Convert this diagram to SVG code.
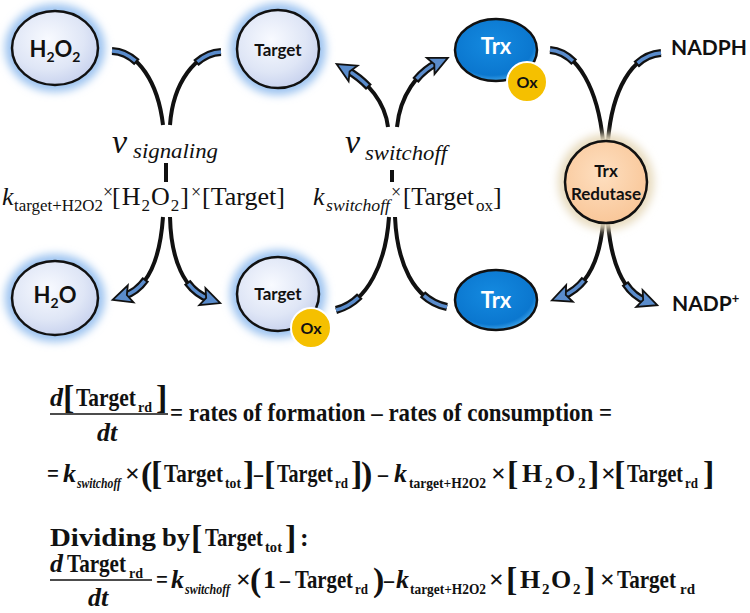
<svg xmlns="http://www.w3.org/2000/svg" width="750" height="613" viewBox="0 0 750 613">
<style>
.nl{font-family:Lato,"Open Sans","Liberation Sans",sans-serif;font-weight:700;fill:#111}
.wl{font-family:Lato,"Open Sans","Liberation Sans",sans-serif;font-weight:700;fill:#fff}
.lb{stroke:#111;stroke-width:2.5}
.m{font-family:"Liberation Serif","Times New Roman",serif;fill:#111}
.mi{font-family:"Liberation Serif","Times New Roman",serif;font-style:italic;fill:#111}
.e{font-family:"Liberation Serif","Times New Roman",serif;font-weight:700;font-size:26px;fill:#111}
.ei{font-family:"Liberation Serif","Times New Roman",serif;font-weight:700;font-style:italic;font-size:26px;fill:#111}
.es{font-family:"Liberation Serif","Times New Roman",serif;font-weight:700;font-size:15px;fill:#111}
.esi{font-family:"Liberation Serif","Times New Roman",serif;font-weight:700;font-style:italic;font-size:15px;fill:#111}
.eb{font-family:"Liberation Serif","Times New Roman",serif;font-weight:700;font-size:34px;fill:#111}
.base{fill:none;stroke:#111;stroke-width:4}
.band{fill:none;stroke:#111;stroke-width:8;stroke-dasharray:28 600}
.blue{fill:none;stroke:#5a8ccc;stroke-width:3.5;stroke-dasharray:26 600}
</style>
<defs>
<filter id="blur" x="-40%" y="-40%" width="180%" height="180%"><feGaussianBlur stdDeviation="4.5"/></filter>
<radialGradient id="gL" cx="0.42" cy="0.38" r="0.7"><stop offset="0" stop-color="#f8faff"/><stop offset="0.6" stop-color="#dfe6f6"/><stop offset="1" stop-color="#c2cdec"/></radialGradient>
<radialGradient id="gT" cx="0.45" cy="0.4" r="0.65"><stop offset="0" stop-color="#148ae0"/><stop offset="0.78" stop-color="#0b77cf"/><stop offset="1" stop-color="#52b4f2"/></radialGradient>
<radialGradient id="gR" cx="0.45" cy="0.4" r="0.7"><stop offset="0" stop-color="#fedfc0"/><stop offset="1" stop-color="#f8c393"/></radialGradient>
<marker id="ah" markerUnits="userSpaceOnUse" viewBox="-10 -12 26 24" refX="0" refY="0" markerWidth="26" markerHeight="24" orient="auto-start-reverse">
<path d="M12,0 L-7,-9 L-3,0 L-7,9 Z" fill="#5a8ccc" stroke="#111" stroke-width="1.8"/>
</marker>
</defs>
<rect width="750" height="613" fill="#fff"/>

<g id="connectors">
<path class="base" d="M112,51 C138,52 158,82 163,125"/>
<path class="base" d="M221,52 C196,53 173,82 170,125"/>
<path class="base" d="M124,296 C148,288 160,260 163,217"/>
<path class="base" d="M209,299 C184,290 171,260 170,217"/>
<path class="base" d="M347,70 C368,82 385,102 388,127"/>
<path class="base" d="M437,63 C418,72 400,95 397,127"/>
<path class="base" d="M336,310 C368,302 386,262 389,217"/>
<path class="base" d="M447,307 C413,300 397,262 395,217"/>
<path class="base" d="M550,50 C578,52 598,90 603,141"/>
<path class="base" d="M661,53 C632,55 612,90 608,141"/>
<path class="base" d="M563,296 C588,286 600,258 603,223"/>
<path class="base" d="M646,301 C622,292 611,260 608,223"/>
<path class="base" d="M166,163 V182"/>
<path class="base" d="M392,170 V182"/>
<g class="ends">
<path class="band" d="M112,51 C138,52 158,82 163,125"/>
<path class="band" d="M221,52 C196,53 173,82 170,125"/>
<path class="band" d="M124,296 C148,288 160,260 163,217"/>
<path class="band" d="M209,299 C184,290 171,260 170,217"/>
<path class="band" d="M347,70 C368,82 385,102 388,127"/>
<path class="band" d="M437,63 C418,72 400,95 397,127"/>
<path class="band" d="M336,310 C368,302 386,262 389,217"/>
<path class="band" d="M447,307 C413,300 397,262 395,217"/>
<path class="band" d="M550,50 C578,52 598,90 603,141"/>
<path class="band" d="M661,53 C632,55 612,90 608,141"/>
<path class="band" d="M563,296 C588,286 600,258 603,223"/>
<path class="band" d="M646,301 C622,292 611,260 608,223"/>
<path class="blue" d="M112,51 C138,52 158,82 163,125"/>
<path class="blue" d="M221,52 C196,53 173,82 170,125"/>
<path class="blue" d="M124,296 C148,288 160,260 163,217" marker-start="url(#ah)"/>
<path class="blue" d="M209,299 C184,290 171,260 170,217" marker-start="url(#ah)"/>
<path class="blue" d="M347,70 C368,82 385,102 388,127" marker-start="url(#ah)"/>
<path class="blue" d="M437,63 C418,72 400,95 397,127" marker-start="url(#ah)"/>
<path class="blue" d="M336,310 C368,302 386,262 389,217"/>
<path class="blue" d="M447,307 C413,300 397,262 395,217"/>
<path class="blue" d="M550,50 C578,52 598,90 603,141"/>
<path class="blue" d="M661,53 C632,55 612,90 608,141"/>
<path class="blue" d="M563,296 C588,286 600,258 603,223" marker-start="url(#ah)"/>
<path class="blue" d="M646,301 C622,292 611,260 608,223" marker-start="url(#ah)"/>
</g>
</g>

<g id="node-h2o2">
<ellipse cx="55" cy="48" rx="50" ry="44" fill="#9cc3f0" filter="url(#blur)"/>
<ellipse cx="55" cy="48" rx="43" ry="37" fill="url(#gL)" class="lb"/>
<text x="55" y="57" text-anchor="middle" class="nl" font-size="22">H<tspan font-size="14" dy="5">2</tspan><tspan dy="-5">O</tspan><tspan font-size="14" dy="5">2</tspan></text>
</g>
<g id="node-target">
<ellipse cx="278" cy="49" rx="48" ry="46" fill="#9cc3f0" filter="url(#blur)"/>
<ellipse cx="278" cy="49" rx="41" ry="39" fill="url(#gL)" class="lb"/>
<text x="278" y="56" text-anchor="middle" class="nl" font-size="17">Target</text>
</g>
<g id="node-trx-ox">
<ellipse cx="496" cy="50" rx="41" ry="31" fill="url(#gT)" class="lb"/>
<text x="496" y="54" text-anchor="middle" class="wl" font-size="22">Trx</text>
<circle cx="527" cy="82" r="20" fill="#f5c000" stroke="#fff" stroke-width="2"/>
<text x="527" y="88" text-anchor="middle" class="nl" font-size="16">Ox</text>
</g>
<g id="node-nadph">
<text x="671" y="55" class="nl" font-size="21">NADPH</text>
</g>
<g id="node-trx-redutase">
<circle cx="606" cy="182" r="48" fill="#e8dcc0" filter="url(#blur)"/>
<circle cx="606" cy="182" r="41" fill="url(#gR)" class="lb"/>
<text x="606" y="177" text-anchor="middle" class="nl" font-size="17">Trx</text>
<text x="606" y="200" text-anchor="middle" class="nl" font-size="17">Redutase</text>
</g>
<g id="node-h2o">
<ellipse cx="55" cy="298" rx="50" ry="44" fill="#9cc3f0" filter="url(#blur)"/>
<ellipse cx="55" cy="298" rx="43" ry="37" fill="url(#gL)" class="lb"/>
<text x="55" y="303" text-anchor="middle" class="nl" font-size="22">H<tspan font-size="14" dy="5">2</tspan><tspan dy="-5">O</tspan></text>
</g>
<g id="node-target-ox">
<ellipse cx="278" cy="294" rx="48" ry="44" fill="#9cc3f0" filter="url(#blur)"/>
<ellipse cx="278" cy="294" rx="41" ry="37" fill="url(#gL)" class="lb"/>
<text x="278" y="300" text-anchor="middle" class="nl" font-size="17">Target</text>
<circle cx="311" cy="328" r="20" fill="#f5c000" stroke="#fff" stroke-width="2"/>
<text x="311" y="334" text-anchor="middle" class="nl" font-size="16">Ox</text>
</g>
<g id="node-trx">
<ellipse cx="496" cy="300" rx="41" ry="30" fill="url(#gT)" class="lb"/>
<text x="496" y="308" text-anchor="middle" class="wl" font-size="22">Trx</text>
</g>
<g id="node-nadp">
<text x="672" y="311" class="nl" font-size="21">NADP<tspan font-size="13" dy="-8">+</tspan></text>
</g>

<g id="label-signaling">
<text x="112" y="153" class="mi" font-size="34">v</text>
<text x="133" y="158" class="mi" font-size="22" textLength="85" lengthAdjust="spacingAndGlyphs">signaling</text>
<text x="2" y="205" class="mi" font-size="26">k</text>
<text x="14" y="211" class="m" font-size="16" textLength="89" lengthAdjust="spacingAndGlyphs">target+H2O2</text>
<text x="103" y="198" class="m" font-size="18">×</text>
<text x="112" y="205" class="m" font-size="26" textLength="77" lengthAdjust="spacing">[H<tspan font-size="17" dy="6">2</tspan><tspan dy="-6">O</tspan><tspan font-size="17" dy="6">2</tspan><tspan dy="-6">]</tspan></text>
<text x="191" y="198" class="m" font-size="18">×</text>
<text x="202" y="205" class="m" font-size="26">[Target]</text>
</g>
<g id="label-switchoff">
<text x="345" y="153" class="mi" font-size="34">v</text>
<text x="365" y="160" class="mi" font-size="22" textLength="82" lengthAdjust="spacingAndGlyphs">switchoff</text>
<text x="313" y="205" class="mi" font-size="26">k</text>
<text x="326" y="211" class="mi" font-size="16" textLength="64" lengthAdjust="spacingAndGlyphs">switchoff</text>
<text x="391" y="198" class="m" font-size="18">×</text>
<text x="403" y="205" class="m" font-size="26" textLength="71" lengthAdjust="spacingAndGlyphs">[Target</text>
<text x="476" y="211" class="m" font-size="17">ox</text>
<text x="493" y="205" class="m" font-size="26">]</text>
</g>

<g id="equation-1">
<text x="50" y="406" class="ei">d</text>
<text x="63" y="409" class="eb">[</text>
<text x="76" y="406" class="e" textLength="60" lengthAdjust="spacingAndGlyphs">Target</text>
<text x="138" y="412" class="es" textLength="14" lengthAdjust="spacingAndGlyphs">rd</text>
<text x="156" y="409" class="eb">]</text>
<line x1="50" y1="414" x2="168" y2="414" stroke="#111" stroke-width="1.6"/>
<text x="97" y="441" class="ei">dt</text>
<text x="170" y="421" class="e" textLength="442" lengthAdjust="spacingAndGlyphs">= rates of formation – rates of consumption =</text>
<text x="47" y="482" class="e" textLength="12" lengthAdjust="spacingAndGlyphs">=</text>
<text x="63" y="482" class="ei">k</text>
<text x="77" y="488" class="esi" textLength="44" lengthAdjust="spacingAndGlyphs">switchoff</text>
<text x="125" y="482" class="e">×</text>
<text x="141" y="485" class="eb">(</text>
<text x="151" y="485" class="eb">[</text>
<text x="164" y="482" class="e" textLength="59" lengthAdjust="spacingAndGlyphs">Target</text>
<text x="225" y="488" class="es" textLength="16" lengthAdjust="spacingAndGlyphs">tot</text>
<text x="243" y="485" class="eb">]</text>
<text x="254" y="482" class="e" textLength="9" lengthAdjust="spacingAndGlyphs">–</text>
<text x="264" y="485" class="eb">[</text>
<text x="277" y="482" class="e" textLength="56" lengthAdjust="spacingAndGlyphs">Target</text>
<text x="335" y="488" class="es" textLength="13" lengthAdjust="spacingAndGlyphs">rd</text>
<text x="351" y="485" class="eb">]</text>
<text x="361" y="485" class="eb">)</text>
<text x="378" y="482" class="e" textLength="10" lengthAdjust="spacingAndGlyphs">–</text>
<text x="394" y="482" class="ei">k</text>
<text x="409" y="488" class="es" textLength="77" lengthAdjust="spacingAndGlyphs">target+H2O2</text>
<text x="491" y="482" class="e">×</text>
<text x="507" y="485" class="eb">[</text>
<text x="522" y="482" class="e">H</text>
<text x="545" y="488" class="es">2</text>
<text x="555" y="482" class="e">O</text>
<text x="578" y="488" class="es">2</text>
<text x="588" y="485" class="eb">]</text>
<text x="601" y="482" class="e">×</text>
<text x="614" y="485" class="eb">[</text>
<text x="627" y="482" class="e" textLength="56" lengthAdjust="spacingAndGlyphs">Target</text>
<text x="685" y="488" class="es" textLength="13" lengthAdjust="spacingAndGlyphs">rd</text>
<text x="703" y="485" class="eb">]</text>
</g>

<g id="equation-2">
<text x="50" y="546" class="e" textLength="106" lengthAdjust="spacingAndGlyphs">Dividing</text>
<text x="162" y="546" class="e" textLength="28" lengthAdjust="spacingAndGlyphs">by</text>
<text x="191" y="549" class="eb">[</text>
<text x="205" y="546" class="e" textLength="58" lengthAdjust="spacingAndGlyphs">Target</text>
<text x="265" y="552" class="es" textLength="17" lengthAdjust="spacingAndGlyphs">tot</text>
<text x="285" y="549" class="eb">]</text>
<text x="300" y="546" class="e">:</text>
<text x="50" y="572" class="ei">d</text>
<text x="67" y="572" class="e" textLength="59" lengthAdjust="spacingAndGlyphs">Target</text>
<text x="129" y="578" class="es" textLength="14" lengthAdjust="spacingAndGlyphs">rd</text>
<line x1="50" y1="580" x2="152" y2="580" stroke="#111" stroke-width="1.6"/>
<text x="88" y="606" class="ei">dt</text>
<text x="156" y="588" class="e" textLength="12" lengthAdjust="spacingAndGlyphs">=</text>
<text x="171" y="588" class="ei">k</text>
<text x="185" y="594" class="esi" textLength="45" lengthAdjust="spacingAndGlyphs">switchoff</text>
<text x="236" y="588" class="e">×</text>
<text x="250" y="591" class="eb">(</text>
<text x="263" y="588" class="e">1</text>
<text x="280" y="588" class="e" textLength="10" lengthAdjust="spacingAndGlyphs">–</text>
<text x="295" y="588" class="e" textLength="58" lengthAdjust="spacingAndGlyphs">Target</text>
<text x="355" y="594" class="es" textLength="13" lengthAdjust="spacingAndGlyphs">rd</text>
<text x="373" y="591" class="eb">)</text>
<text x="384" y="588" class="e" textLength="10" lengthAdjust="spacingAndGlyphs">–</text>
<text x="396" y="588" class="ei">k</text>
<text x="410" y="594" class="es" textLength="76" lengthAdjust="spacingAndGlyphs">target+H2O2</text>
<text x="489" y="588" class="e">×</text>
<text x="506" y="591" class="eb">[</text>
<text x="520" y="588" class="e">H</text>
<text x="542" y="594" class="es">2</text>
<text x="551" y="588" class="e">O</text>
<text x="573" y="594" class="es">2</text>
<text x="584" y="591" class="eb">]</text>
<text x="600" y="588" class="e">×</text>
<text x="617" y="588" class="e" textLength="59" lengthAdjust="spacingAndGlyphs">Target</text>
<text x="680" y="594" class="es" textLength="15" lengthAdjust="spacingAndGlyphs">rd</text>
</g>
</svg>
